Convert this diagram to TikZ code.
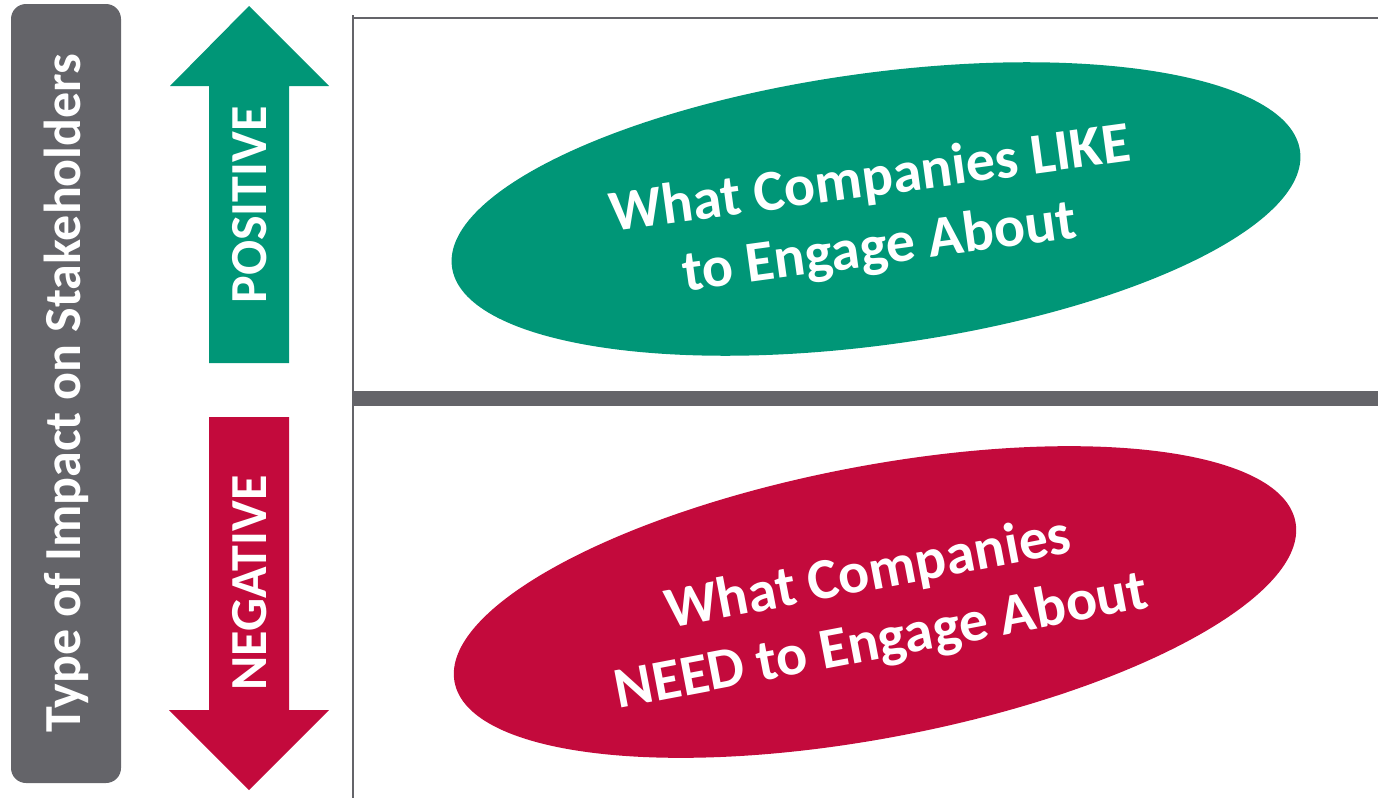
\documentclass[tikz,border=0pt]{standalone}
\usepackage{fontspec}
\setmainfont{Carlito}
\usepackage{xcolor}
\usetikzlibrary{shapes.geometric}
\definecolor{impgray}{HTML}{646469}
\definecolor{posgreen}{HTML}{009677}
\definecolor{negred}{HTML}{C30A3C}

\begin{document}
\begin{tikzpicture}[x=1pt,y=-1pt]
    \tikzset{font={\bfseries\fontsize{52pt}{60pt}\selectfont}}
    \tikzset{lbl/.style={text=white,inner sep=0pt}}
    \tikzset{oval/.style={ellipse,inner sep=0pt,
        minimum width=856pt,minimum height=272pt}}
    \tikzset{ovaltext/.style={text=white,align=center,inner sep=0pt,
        font={\bfseries\fontsize{58pt}{69pt}\selectfont}}}
    \useasboundingbox (0,0) rectangle (1378,803);
    % side label
    \fill[impgray,rounded corners=15pt] (11,4) rectangle (121,783);
    \node[lbl,rotate=90] (impact) at (66,393) {Type of Impact on Stakeholders};
    % up / down arrows
    \fill[posgreen] (209,363)--(209,86)--(170,86)--(249,6)--(329,86)--(289,86)--(289,363)--cycle;
    \fill[negred] (209,417)--(209,710)--(169,710)--(249,790)--(329,710)--(289,710)--(289,417)--cycle;
    \node[lbl,rotate=90] (pos) at (250,205) {POSITIVE};
    \node[lbl,rotate=90] (neg) at (250,583) {NEGATIVE};
    % frame
    \draw[impgray,line width=2pt] (353,15)--(353,798);
    \draw[impgray,line width=2.5pt] (353,18)--(1378,18);
    \draw[impgray,line width=15pt] (353,398.5)--(1378,398.5);
    % ovals
    \node[oval,fill=posgreen,rotate=7.8] (like) at (876,209) {};
    \node[ovaltext,rotate=7.8] (liketxt) at (875,215)
        {What Companies LIKE\\to Engage About};
    \node[oval,fill=negred,rotate=10.8] (need) at (875,602) {};
    \node[ovaltext,rotate=10.8] (needtxt) at (875,609)
        {What Companies\\NEED to Engage About};
\end{tikzpicture}
\end{document}
